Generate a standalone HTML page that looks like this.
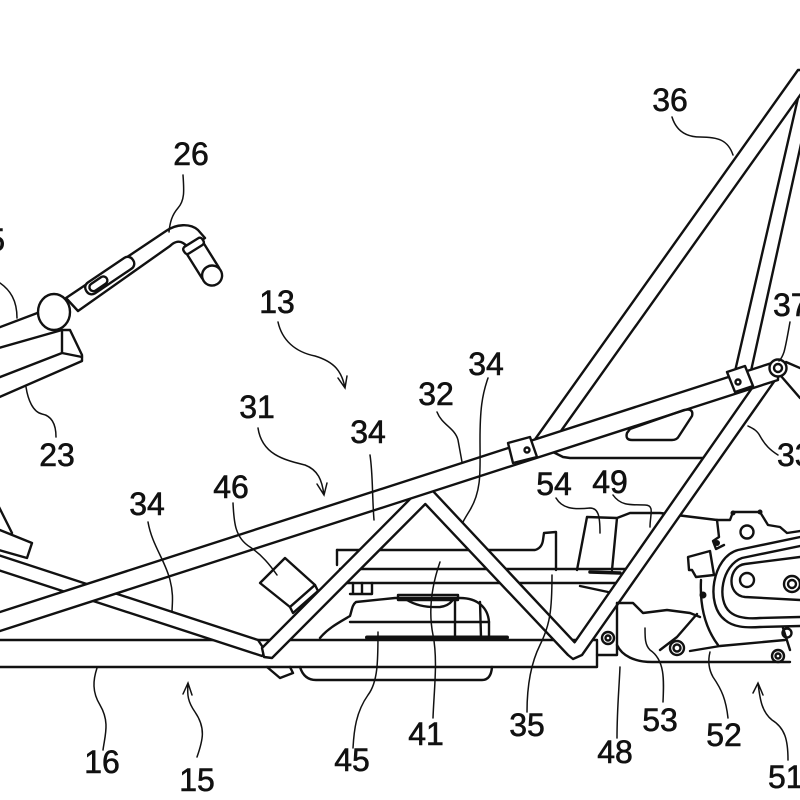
<!DOCTYPE html>
<html><head><meta charset="utf-8"><style>
html,body{margin:0;padding:0;background:#fff;}
svg{display:block;}
text{font-family:"Liberation Sans",Arial,sans-serif;font-size:32px;fill:#111;stroke:#111;stroke-width:0.6;}
</style></head><body>
<svg width="800" height="800" viewBox="0 0 800 800" xmlns="http://www.w3.org/2000/svg">
<rect width="800" height="800" fill="#fff"/>
<g fill="none" stroke="#111" stroke-width="2.4" stroke-linejoin="round" stroke-linecap="round">
<!-- box 41 / 35 lines -->
<path d="M337,550 L535,550 Q542,548 543,540 L544,533 L556,532 L556,570"/>
<path d="M337,550 L337,565"/>
<path d="M340,569 L630,569"/>
<path d="M345,583 L620,583"/>
<path d="M350,594 L372,594 M353,583 L353,594 M362,583 L362,594 M372,583 L372,594"/>
<path d="M590,572 L620,573" stroke-width="3.5"/>
<path d="M580,586 L608,592"/>
<!-- 45 -->
<path d="M320,638 C328,628 340,622 350,616 C352,610 352,605 356,602 L395,598 L460,598 C478,598 488,608 489,622 L489,638"/>
<path d="M350,622 L489,622"/>
<path d="M455,600 L455,637 M480,602 L481,637"/>
<rect x="398" y="595" width="60" height="5"/>
<path d="M407,600 Q420,608 440,607 Q448,606 452,601"/>
<path d="M367,637.5 L507,637.5" stroke-width="4"/>
<path d="M300,667 Q304,680 316,680 L482,680 Q491,680 492,667"/>
<path d="M267,667 L280,678 L293,673 L290,667"/>
<!-- rail 16 -->
<path d="M-5,640 L597,640 L597,667 L-5,667"/>
<!-- 54 / 49 -->
<path d="M587,517 L577,570 M587,517 L617,518 L612,570 M617,518 L630,513 L660,513 L717,520"/>
<!-- gusset bottom -->
<path d="M553,452 L563,457 L570,458 L704,458"/>
<!-- front left pieces -->
<path d="M-2,505 L12,533"/>
<path d="M-5,528 L32,543 L27,558 L-5,549" fill="#fff"/>
<!-- tubes -->
<g fill="#fff">
<polygon points="-5,554 258,640 266,652 262,656 -5,569"/>
<polygon points="733,380 801,85 814,85 749,380"/>
<polygon points="526,452 798,70 818,70 546,452"/>
<polygon points="262,648 425.7,483.3 574.6,642.3 766,368 778,376 582,655 573,659 568,655 425.3,504 272,658 264,657"/>
<polygon points="-5,613.6 778,361 778,380 -5,632.6"/>
<!-- brackets -->
<polygon points="508,443 530,437 537,457 513,463"/>
<polygon points="727,372 745,366 753,386 735,392"/>
<circle cx="778" cy="368" r="8.5"/>
</g>
<circle cx="778" cy="368" r="4"/>
<circle cx="527" cy="450" r="2.5"/>
<circle cx="738" cy="382" r="2.5"/>
<path d="M781,376 L800,398 M786,362 L800,368"/>
<!-- slot -->
<path d="M630,429 L684,410 Q694,408 692,416 L679,436 Q677,440 672,440 L632,440 Q625,440 627,433 Z"/>
<!-- 46 -->
<polygon points="260,583 285,558 315,585 290,607" fill="#fff"/>
<polygon points="290,607 315,585 318,591 293,613" fill="#fff"/>
<!-- 48 / 53 / 52 -->
<path d="M617,603 L617,655 L597,655"/>
<circle cx="608" cy="638" r="6"/><circle cx="608" cy="638" r="2.5"/>
<path d="M617,603 L633,603 L643,613 L667,610 L690,613 L700,617"/>
<path d="M697,614 L677,637 L660,650"/>
<path d="M617,645 C622,656 635,662 652,662 L790,662"/>
<path d="M690,651 L720,646 L785,640"/>
<path d="M701,580 C700,600 703,625 718,645"/>
<circle cx="677" cy="648" r="7"/><circle cx="677" cy="648" r="3.5"/>
<circle cx="778" cy="656" r="6"/><circle cx="778" cy="656" r="2.5"/>
<circle cx="787" cy="633" r="4.5"/>
<path d="M783,628 L790,650"/>
<!-- engine 51 -->
<path d="M717,520 L719,537 L713,541 L716,549 L724,545"/>
<path d="M717,520 L730,520 L733,512 L760,512 L768,525 L780,527 L787,533 L800,531"/>
<circle cx="747" cy="532" r="6.5"/>
<path d="M800,537 L738,550 C712,557 705,605 725,620 C733,627 745,628 760,627 L800,626"/>
<path d="M800,546 L742,558 C722,565 716,600 730,612 C737,618 748,619 760,618 L800,617"/>
<path d="M800,557 L745,564 C728,566 726,595 745,597 L800,600"/>
<circle cx="747" cy="580" r="7"/>
<circle cx="792" cy="584" r="8"/><circle cx="792" cy="584" r="4"/>
<polygon points="688,557 710,551 714,575 696,577 692,570 689,570" fill="#fff"/>
<!-- handlebar / column -->
<path d="M-5,329 L40,312"/>
<path d="M-5,349 L62,330 L70,330 L82,355 L82,361 L-5,399" fill="#fff"/>
<path d="M-5,379 L62,353 L82,357 M62,330 L62,353"/>
<path d="M66,298 L166,231 C176,224 190,223 198,230 L205,238 L190,248 L183,243 C178,240 173,243 170,246 L78,311 Z" fill="#fff"/>
<g transform="translate(110,276) rotate(-34)" fill="#fff">
<rect x="-28" y="-7" width="56" height="13" rx="6"/>
<rect x="-24" y="-4" width="20" height="8" rx="4"/>
</g>
<ellipse cx="54" cy="312" rx="16" ry="18" fill="#fff"/>
<g transform="translate(193,245) rotate(58)" fill="#fff">
<rect x="0" y="-10" width="36" height="20" rx="3"/>
<circle cx="36" cy="0" r="10"/>
<rect x="-3" y="-11" width="8" height="22" rx="3"/>
</g>
</g>
<g fill="#111">
<circle cx="733" cy="513" r="2.5"/><circle cx="760" cy="512" r="2.5"/>
<circle cx="717" cy="543" r="3"/><circle cx="703" cy="595" r="3.5"/>
</g>
<!-- leaders -->
<g fill="none" stroke="#111" stroke-width="1.5" stroke-linecap="round">
<path d="M183,175 C184,190 185,200 178,208 C172,215 170,222 169,232"/>
<path d="M56,437 C56,425 52,416 42,414 C33,412 28,400 26,387"/>
<path d="M0,283 C10,290 17,300 17,318"/>
<path d="M278,322 C282,340 295,352 315,356 C335,362 342,372 345,388 M338,378 L345,388 L347,376"/>
<path d="M258,428 C262,455 285,460 305,465 C318,470 322,480 324,495 M317,484 L324,495 L327,483"/>
<path d="M370,455 C373,475 372,495 374,520"/>
<path d="M488,378 C482,395 480,410 480,440 C480,470 482,490 470,510 C467,515 465,518 463,522"/>
<path d="M437,412 C442,425 455,428 458,440 L462,462"/>
<path d="M672,117 C676,130 685,137 700,137 C718,137 728,140 733,155"/>
<path d="M790,322 C788,333 786,345 784,352 C782,358 780,360 779,361"/>
<path d="M778,455 C770,450 765,445 760,436 C757,430 752,428 748,426"/>
<path d="M148,522 C152,545 165,560 170,580 C174,595 172,605 172,612"/>
<path d="M233,503 C234,520 234,537 250,547 C262,555 270,565 277,575"/>
<path d="M103,750 C105,735 110,722 100,705 C92,692 93,680 97,668"/>
<path d="M197,757 C203,740 206,728 195,712 C188,702 187,695 188,684 M183,694 L188,683 L192,695"/>
<path d="M353,748 C354,730 356,712 368,695 C378,682 378,660 378,632"/>
<path d="M433,718 C434,690 438,660 433,635 C428,610 432,585 440,562"/>
<path d="M527,712 C527,690 530,665 540,645 C550,625 552,610 552,575"/>
<path d="M617,738 C617,710 619,690 620,667"/>
<path d="M663,702 C664,680 665,660 650,650 C645,645 645,638 645,628"/>
<path d="M728,718 C726,700 722,690 713,677 C708,668 708,660 710,652"/>
<path d="M788,760 C788,740 785,728 772,720 C762,712 760,700 758,683 M753,693 L758,683 L763,695"/>
<path d="M556,498 C562,508 572,510 590,508 C598,508 600,515 600,533"/>
<path d="M613,495 C620,505 628,505 645,505 C655,505 650,515 650,527"/>
</g>
<!-- labels -->
<g text-anchor="middle">
<text x="191" y="165">26</text>
<text x="277" y="313">13</text>
<text x="257" y="418">31</text>
<text x="368" y="443">34</text>
<text x="57" y="466">23</text>
<text x="670" y="111">36</text>
<text x="436" y="405">32</text>
<text x="486" y="375">34</text>
<text x="147" y="515">34</text>
<text x="231" y="498">46</text>
<text x="554" y="495">54</text>
<text x="610" y="493">49</text>
<text x="102" y="773">16</text>
<text x="197" y="791">15</text>
<text x="352" y="771">45</text>
<text x="426" y="745">41</text>
<text x="527" y="736">35</text>
<text x="615" y="763">48</text>
<text x="660" y="731">53</text>
<text x="724" y="746">52</text>
</g>
<text x="5" y="251" text-anchor="end">25</text>
<text x="773" y="316">37</text>
<text x="777" y="466">33</text>
<text x="768" y="788">51</text>
</svg>
</body></html>
